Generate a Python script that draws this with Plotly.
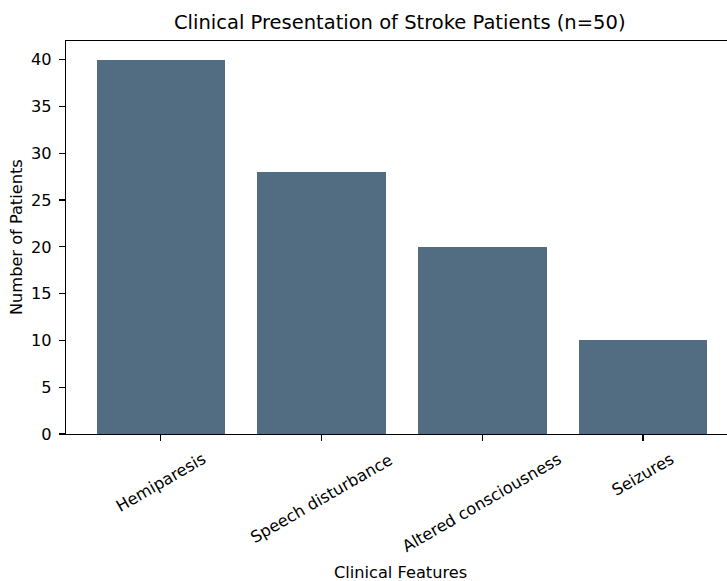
import plotly.graph_objects as go

categories = ["Hemiparesis", "Speech disturbance", "Altered consciousness", "Seizures"]
patients = [40, 28, 20, 10]
y_ticks = [0, 5, 10, 15, 20, 25, 30, 35, 40]

title_text = "Clinical Presentation of Stroke Patients (n=50)"
x_title = "Clinical Features"
y_title = "Number of Patients"

bar_color = "#526d82"
font_family = "DejaVu Sans"
tick_size = 16.2
title_size = 19.5

W, H = 727, 581
L, T, B = 66, 41, 147
PW = W - L

fig = go.Figure()
fig.add_trace(go.Bar(
    x=list(range(len(categories))),
    y=patients,
    width=0.8,
    marker=dict(color=bar_color, line=dict(width=0)),
    hoverinfo="skip",
))

annotations = []
for i, c in enumerate(categories):
    annotations.append(dict(
        x=i, xref="x", y=0, yref="paper", yshift=-13,
        text=c, textangle=-30, showarrow=False,
        xanchor="center", yanchor="top",
        font=dict(family=font_family, size=tick_size, color="#000000"),
    ))
annotations.append(dict(
    x=(400 - L) / PW, xref="paper", y=0, yref="paper", yshift=-138,
    text=x_title, showarrow=False, xanchor="center", yanchor="middle",
    font=dict(family=font_family, size=tick_size, color="#000000"),
))
annotations.append(dict(
    x=0, xref="paper", xshift=-(L - 16.5), y=0.5, yref="paper",
    text=y_title, textangle=-90, showarrow=False, xanchor="center", yanchor="middle",
    font=dict(family=font_family, size=tick_size, color="#000000"),
))
annotations.append(dict(
    x=(400 - L) / PW, xref="paper", y=1, yref="paper", yshift=19,
    text=title_text, showarrow=False, xanchor="center", yanchor="middle",
    font=dict(family=font_family, size=title_size, color="#000000"),
))

fig.update_layout(
    width=W, height=H,
    margin=dict(l=L, r=0, t=T, b=B),
    plot_bgcolor="white", paper_bgcolor="white",
    showlegend=False,
    bargap=0,
    annotations=annotations,
    font=dict(family=font_family, size=tick_size, color="#000000"),
    xaxis=dict(
        range=[-0.59, 3.523],
        tickmode="array", tickvals=list(range(len(categories))), ticktext=[""] * len(categories),
        ticks="outside", ticklen=6, tickwidth=1.2, tickcolor="black",
        showline=True, linecolor="black", linewidth=1.2, mirror=True,
        showgrid=False, zeroline=False, fixedrange=True,
    ),
    yaxis=dict(
        range=[0, 42],
        tickmode="array", tickvals=y_ticks,
        ticks="outside", ticklen=6, tickwidth=1.2, tickcolor="black",
        ticklabelstandoff=4,
        showline=True, linecolor="black", linewidth=1.2,
        showgrid=False, zeroline=False, fixedrange=True,
        tickfont=dict(family=font_family, size=tick_size, color="#000000"),
    ),
)

fig.write_html(
    "out.html",
    config={"displayModeBar": False, "staticPlot": True},
    post_script="document.body.style.margin='0px';document.body.style.overflow='hidden';",
)
